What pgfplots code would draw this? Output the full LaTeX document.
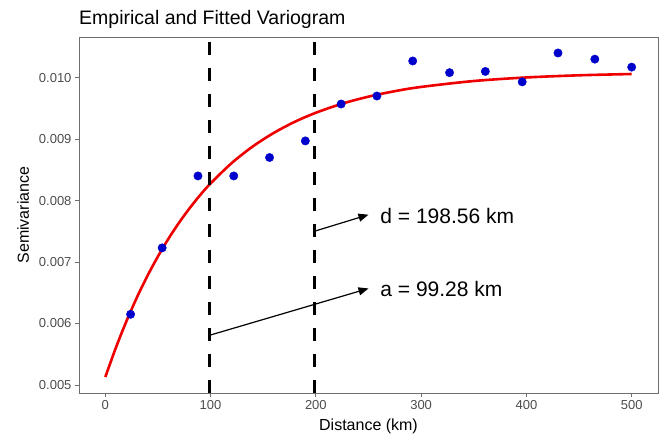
\documentclass[border=0pt]{standalone}
\usepackage{pgfplots}
\pgfplotsset{compat=1.18}
\usepackage{fontspec}
\setmainfont{Liberation Sans}
\usetikzlibrary{arrows.meta}
\definecolor{ptblue}{HTML}{0000CD}
\definecolor{fitred}{HTML}{EE0000}
\definecolor{framegray}{HTML}{6E6E6E}
\definecolor{ticktext}{HTML}{4D4D4D}

% empirical variogram (distance km, semivariance)
\pgfplotstableread{
h g
24 0.00615
54 0.00723
88 0.00840
122 0.00840
156 0.00870
190 0.00897
224 0.00957
258 0.00970
292 0.01027
327 0.01008
361 0.01010
396 0.00993
430 0.01040
465 0.01030
500 0.01017
}\empirical

% fitted exponential model, a = 99.28 km
\pgfplotstableread{
h g
0 0.005130
10 0.005605
20 0.006035
30 0.006424
40 0.006775
50 0.007092
60 0.007380
70 0.007639
80 0.007874
90 0.008087
100 0.008279
120 0.008609
140 0.008879
160 0.009100
180 0.009281
200 0.009428
225 0.009576
250 0.009690
275 0.009779
300 0.009848
350 0.009944
400 0.010002
450 0.010037
500 0.010058
}\fitted

\begin{document}
\begin{tikzpicture}
\path[use as bounding box] (-79bp,-42bp) rectangle (588bp,393bp);
\begin{axis}[
    name=ax,
    scale only axis,
    width=579bp, height=356bp,
    xmin=-25, xmax=525,
    ymin=0.00487, ymax=0.01066,
    xtick={0,100,200,300,400,500},
    ytick={0.005,0.006,0.007,0.008,0.009,0.010},
    scaled y ticks=false,
    yticklabel style={/pgf/number format/.cd, fixed, fixed zerofill, precision=3},
    /pgf/number format/assume math mode=true,
    tick pos=left,
    tick align=outside,
    major tick length=4bp,
    every tick/.style={framegray, line width=0.8bp},
    axis line style={framegray, line width=0.9bp},
    ticklabel style={font=\fontsize{13bp}{15bp}\selectfont, text=ticktext},
    xlabel={Distance (km)},
    ylabel={Semivariance},
    label style={font=\fontsize{16bp}{18bp}\selectfont},
    xlabel style={yshift=-2bp},
    ylabel style={yshift=3bp},
    clip=true,
]
\addplot[only marks, mark=*, mark size=4.2bp, ptblue, mark options={draw=ptblue, fill=ptblue}]
    table[x=h, y=g] {\empirical};
\addplot[fitred, line width=2.6bp, no marks, smooth] table[x=h, y=g] {\fitted};
\addplot[black, line width=3.2bp, dash pattern=on 13bp off 13bp]
    coordinates {(99.28,0.00487) (99.28,0.01066)};
\addplot[black, line width=3.2bp, dash pattern=on 13bp off 13bp]
    coordinates {(198.56,0.00487) (198.56,0.01066)};
\addplot[black, line width=1.2bp, -{Triangle[length=10bp,width=8bp]}]
    coordinates {(198.56,0.00750) (250,0.00777)};
\addplot[black, line width=1.2bp, -{Triangle[length=10bp,width=8bp]}]
    coordinates {(99.28,0.00581) (250,0.00657)};
\node[anchor=west, font=\fontsize{21bp}{24bp}\selectfont] at (axis cs:258,0.00775) {d = 198.56 km};
\node[anchor=west, font=\fontsize{21bp}{24bp}\selectfont] at (axis cs:258,0.00656) {a = 99.28 km};
\end{axis}
\node[anchor=base west, font=\fontsize{19.5bp}{22bp}\selectfont, inner sep=0pt]
    at ([yshift=12bp]ax.north west) {Empirical and Fitted Variogram};
\end{tikzpicture}
\end{document}
